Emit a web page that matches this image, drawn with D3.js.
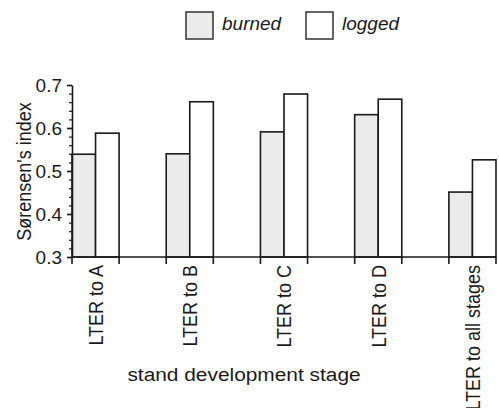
<!DOCTYPE html>
<html>
<head>
<meta charset="utf-8">
<script src="https://cdn.jsdelivr.net/npm/d3@7"></script>
<style>
  body { margin: 0; background: #fff; }
  svg { display: block; }
  text { font-family: "Liberation Sans", Arial, Helvetica, sans-serif; fill: #1a1a1a; }
</style>
</head>
<body>
<svg id="chart" width="499" height="408"></svg>
<script>
var stages = ["LTER to A", "LTER to B", "LTER to C", "LTER to D", "LTER to all stages"];
var seriesNames = ["burned", "logged"];
var burned = [0.539, 0.540, 0.591, 0.631, 0.451];
var logged = [0.588, 0.661, 0.679, 0.667, 0.526];
var yTicks = [0.3, 0.4, 0.5, 0.6, 0.7];

var colors = { burned: "#ebebeb", logged: "#ffffff" };
var ink = "#1a1a1a";

var svg = d3.select("#chart");

var x = d3.scaleBand().domain(stages).range([72, 496]).paddingInner(0.5).paddingOuter(0);
var xs = d3.scaleBand().domain(seriesNames).range([0, x.bandwidth()]);
var y = d3.scaleLinear().domain([0.3, 0.7]).range([257, 85]);

var rows = stages.map(function(s, i) {
    return { stage: s, values: [{ key: "burned", v: burned[i] }, { key: "logged", v: logged[i] }] };
});

// bars
var grp = svg.append("g").selectAll("g")
    .data(rows)
    .enter().append("g")
    .attr("transform", function(d) { return "translate(" + x(d.stage) + ",0)"; });

grp.selectAll("rect")
    .data(function(d) { return d.values; })
    .enter().append("rect")
    .attr("x", function(d) { return xs(d.key); })
    .attr("y", function(d) { return y(d.v); })
    .attr("width", xs.bandwidth())
    .attr("height", function(d) { return y(0.3) - y(d.v); })
    .attr("fill", function(d) { return colors[d.key]; })
    .attr("stroke", ink)
    .attr("stroke-width", 1.6);

// y axis: minor ticks then major ticks
var yMinor = d3.range(0.3, 0.7001, 0.02);
svg.append("g")
    .attr("transform", "translate(72,0)")
    .call(d3.axisLeft(y).tickValues(yMinor).tickSize(3).tickFormat(""))
    .call(function(g) { g.select(".domain").remove(); })
    .selectAll("line").attr("stroke", ink).attr("stroke-width", 1.2);

var yAxis = svg.append("g")
    .attr("transform", "translate(72,0)")
    .call(d3.axisLeft(y).tickValues(yTicks).tickSize(5).tickSizeOuter(0).tickPadding(5).tickFormat(d3.format(".1f")));
yAxis.select(".domain").attr("stroke", ink).attr("stroke-width", 1.6);
yAxis.selectAll("line").attr("stroke", ink).attr("stroke-width", 1.6);
yAxis.selectAll("text").style("font-size", "19px").attr("fill", ink).attr("dy", "0.36em");

// x axis line and edge ticks
svg.append("line")
    .attr("x1", x.range()[0]).attr("x2", x.range()[1])
    .attr("y1", y(0.3)).attr("y2", y(0.3))
    .attr("stroke", ink).attr("stroke-width", 1.6);

var edges = [];
stages.forEach(function(s) { edges.push(x(s)); edges.push(x(s) + x.bandwidth()); });
svg.append("g").selectAll("line")
    .data(edges)
    .enter().append("line")
    .attr("x1", function(d) { return d; }).attr("x2", function(d) { return d; })
    .attr("y1", y(0.3)).attr("y2", y(0.3) + 7)
    .attr("stroke", ink).attr("stroke-width", 1.6);

// x tick labels, rotated (glyphs a little wider, as in the original)
svg.append("g").selectAll("text")
    .data(stages)
    .enter().append("text")
    .attr("transform", function(d) { return "translate(" + (x(d) + x.bandwidth() / 2) + ",265) scale(1.15,1) rotate(-90)"; })
    .attr("text-anchor", "end")
    .attr("dy", "0.36em")
    .style("font-size", "18px")
    .text(function(d) { return d; });

// axis titles
svg.append("text")
    .attr("transform", "translate(244,381) scale(1.16,1)")
    .attr("text-anchor", "middle")
    .style("font-size", "18px")
    .text("stand development stage");

svg.append("text")
    .attr("transform", "translate(31,171.5) scale(1.15,1) rotate(-90)")
    .attr("text-anchor", "middle")
    .style("font-size", "18px")
    .text("Sørensen's index");

// legend
var legendX = [186, 306];
var legend = svg.append("g").selectAll("g")
    .data(seriesNames)
    .enter().append("g")
    .attr("transform", function(d, i) { return "translate(" + legendX[i] + ",12)"; });

legend.append("rect")
    .attr("width", 27).attr("height", 27)
    .attr("fill", function(d) { return colors[d]; })
    .attr("stroke", "#333")
    .attr("stroke-width", 1.5);

legend.append("text")
    .attr("x", 36).attr("y", 18)
    .style("font-size", "19px")
    .style("font-style", "italic")
    .text(function(d) { return d; });
</script>
</body>
</html>
